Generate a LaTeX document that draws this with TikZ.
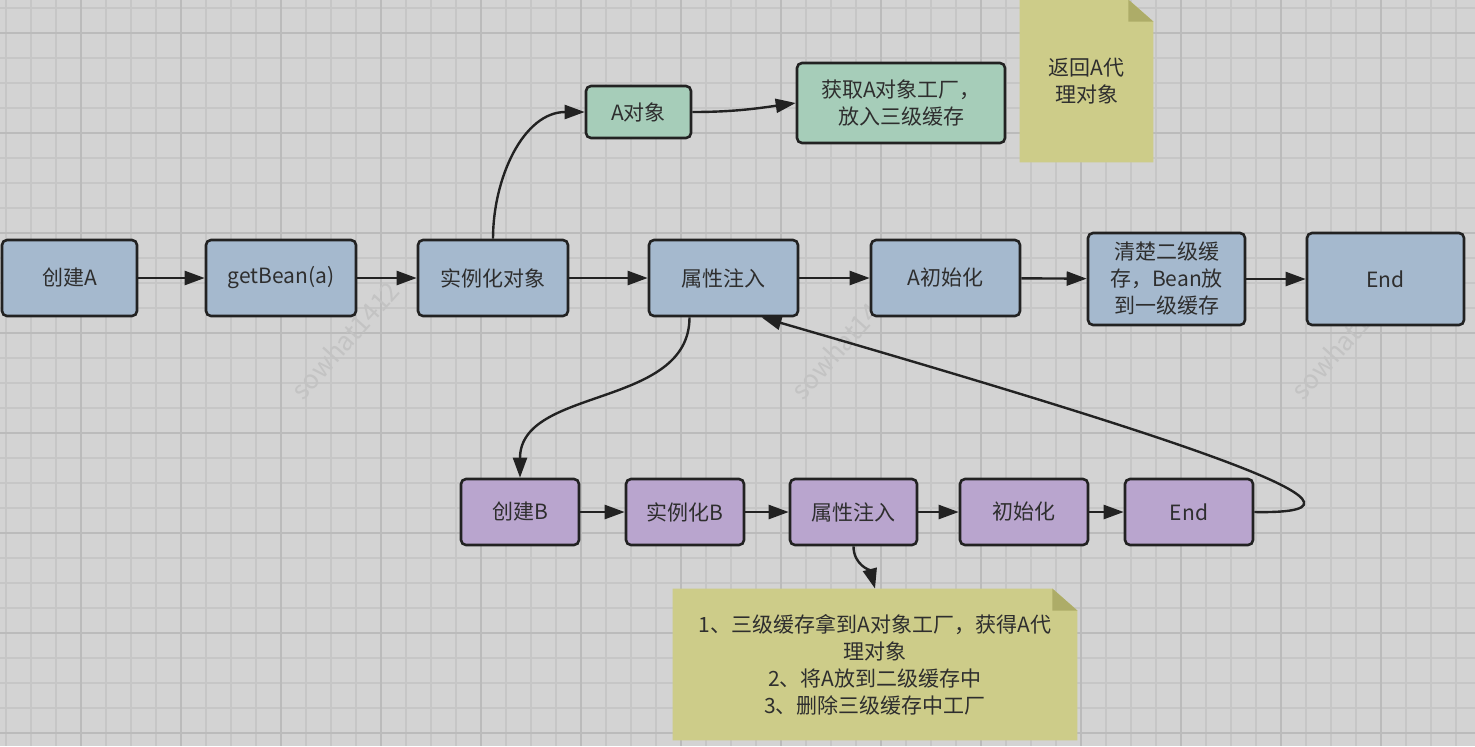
\documentclass[tikz,border=0pt]{standalone}
\usepackage{fontspec}
\setmainfont{Noto Sans CJK SC}
\usetikzlibrary{arrows.meta}
\pgfdeclarelayer{grid}
\pgfdeclarelayer{notes}
\pgfsetlayers{grid,notes,main}
\definecolor{bg}{HTML}{D3D3D3}
\definecolor{gridminor}{HTML}{C6C6C6}
\definecolor{gridmajor}{HTML}{BBBBBB}
\definecolor{boxblue}{HTML}{A5B9CE}
\definecolor{boxgreen}{HTML}{A6CDB9}
\definecolor{boxpurple}{HTML}{B9A5CE}
\definecolor{notefill}{HTML}{CDCC89}
\definecolor{notefold}{HTML}{ADAC68}
\definecolor{inkgray}{HTML}{222222}
\definecolor{textgray}{HTML}{2E2E2E}
\definecolor{wmgray}{HTML}{C3C3C3}
\tikzset{
	flownode/.style = {
		align=center,
		inner sep=0pt,
		text centered,
		font=\fontsize{10.5pt}{13.5pt}\selectfont,
		text=textgray
	},
	node_box/.style = {
		flownode,
		rectangle,
		rounded corners=2.5pt,
		draw=inkgray,
		line width=1.3pt,
		minimum height=38pt
	},
	node_blue/.style = {
		node_box,
		fill=boxblue
	},
	node_green/.style = {
		node_box,
		fill=boxgreen
	},
	node_purple/.style = {
		node_box,
		fill=boxpurple,
		minimum height=33pt
	},
	node_note/.style = {
		flownode,
		rectangle
	},
	note_fill/.style = {
		fill=notefill
	},
	note_fold/.style = {
		fill=notefold
	},
	conn/.style = {
		->,
		draw=inkgray,
		line width=1.2pt
	},
	watermark/.style = {
		font=\fontsize{13pt}{13pt}\selectfont,
		text=wmgray,
		rotate=48,
		inner sep=0pt
	},
	grid_minor/.style = {
		draw=gridminor,
		line width=0.6pt
	},
	grid_major/.style = {
		draw=gridmajor,
		line width=0.7pt
	},
}

\begin{document}
\begin{tikzpicture}[x=0.5pt,y=-0.5pt,>={Triangle[length=10pt,width=7pt]}]
\useasboundingbox (0,0) rectangle (1475,746);
\begin{pgfonlayer}{grid}
\fill[bg] (0,0) rectangle (1475,746);
\foreach \gx in {6,31,...,1475} \draw[grid_minor] (\gx,0) -- (\gx,746);
\foreach \gy in {8,33,...,746} \draw[grid_minor] (0,\gy) -- (1475,\gy);
\foreach \gx in {81,181,...,1475} \draw[grid_major] (\gx,0) -- (\gx,746);
\foreach \gy in {33,133,...,746} \draw[grid_major] (0,\gy) -- (1475,\gy);
\end{pgfonlayer}
\foreach \wx in {345,845,1345} \node[watermark] (wm\wx) at (\wx,340) {sowhat1412};
% main line of A
\node [node_blue, minimum width=67.5pt] (createA) at (69.5,278) {创建A};
\node [node_blue, minimum width=75pt] (getbean) at (281,278) {getBean(a)};
\node [node_blue, minimum width=75pt] (inst) at (493,278) {实例化对象};
\node [node_blue, minimum width=74.5pt] (inject) at (723.5,278) {属性注入};
\node [node_blue, minimum width=74.5pt] (initA) at (945.5,278) {A初始化};
\node [node_blue, minimum width=78.5pt, minimum height=46pt] (clear) at (1166.5,279) {清楚二级缓\\存，Bean放\\到一级缓存};
\node [node_blue, minimum width=78.5pt, minimum height=46pt] (endA) at (1385.5,279) {End};
% early reference
\node [node_green, minimum width=52.5pt, minimum height=26pt] (aobj) at (638.5,112) {A对象};
\node [node_green, minimum width=104pt, minimum height=40pt] (factory) at (901,103) {获取A对象工厂，\\放入三级缓存};
\node [node_note, minimum width=66.5pt, minimum height=81pt] (retnote) at (1086.5,81) {返回A代\\理对象};
% line of B
\node [node_purple, minimum width=59pt] (createB) at (520,512) {创建B};
\node [node_purple, minimum width=59pt] (instB) at (685,512) {实例化B};
\node [node_purple, minimum width=63.5pt] (injectB) at (853.5,512) {属性注入};
\node [node_purple, minimum width=64pt] (initB) at (1024,512) {初始化};
\node [node_purple, minimum width=64pt] (endB) at (1189,512) {End};
\node [node_note, minimum width=202pt, minimum height=75.5pt] (stepnote) at (875,664.5) {1、三级缓存拿到A对象工厂，获得A代\\理对象\\2、将A放到二级缓存中\\3、删除三级缓存中工厂};
\begin{pgfonlayer}{notes}
\foreach \n in {retnote,stepnote} {
	\fill[note_fill] (\n.north west) -- ([xshift=-12.5pt]\n.north east) -- ([yshift=-11pt]\n.north east) -- (\n.south east) -- (\n.south west) -- cycle;
	\fill[note_fold] ([xshift=-12.5pt]\n.north east) -- ([xshift=-12.5pt,yshift=-11pt]\n.north east) -- ([yshift=-11pt]\n.north east) -- cycle;
}
\end{pgfonlayer}
\draw[conn] (createA) -- (getbean);
\draw[conn] (getbean) -- (inst);
\draw[conn] (inst) -- (inject);
\draw[conn] (inject) -- (initA);
\draw[conn] (initA) -- (clear);
\draw[conn] (clear) -- (endA);
\draw[conn] (inst.north) to[out=90,in=180] (aobj.west);
\draw[conn] (aobj.east) to[out=0,in=188] (factory.west);
\draw[conn] ([xshift=-17pt]inject.south) to[out=-90,in=90] (createB.north);
\draw[conn] (createB) -- (instB);
\draw[conn] (instB) -- (injectB);
\draw[conn] (injectB) -- (initB);
\draw[conn] (initB) -- (endB);
\draw[conn] (endB.east) .. controls (1420,515) and (1150,430) .. ([xshift=19pt]inject.south);
\draw[conn] (injectB.south) to[out=-90,in=105] (stepnote.north);
\end{tikzpicture}
\end{document}
